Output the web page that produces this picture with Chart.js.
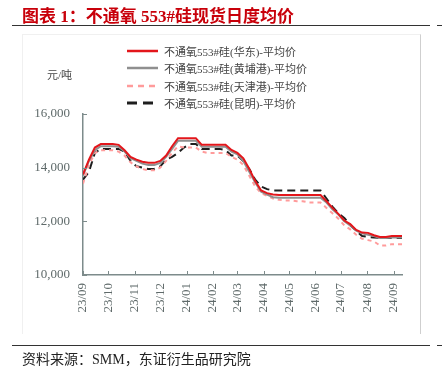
<!DOCTYPE html>
<html>
<head>
<meta charset="utf-8">
<script src="https://cdn.jsdelivr.net/npm/chart.js@4"></script>
<style>
  html, body { margin: 0; padding: 0; background: #fff; }
  #wrap { position: relative; width: 442px; height: 378px; overflow: hidden; }
  #chart { position: absolute; left: 0; top: 0; }
  .abs { position: absolute; }
  #title { left: 22px; top: 2px; font: bold 17px "Liberation Serif", "Noto Sans CJK SC"; color: #c8000a; white-space: nowrap; }
  .rule { position: absolute; height: 1px; background: #333; }
  #panel { left: 22px; top: 34px; width: 397px; height: 299px; border-top: 1px solid #f0f0f0; border-left: 1px solid #f0f0f0; border-right: 1px solid #cfcfcf; }
  #unit { left: 47px; top: 66px; font: 11px "Liberation Serif", "Noto Sans CJK SC"; color: #444; }
  #legend { left: 127px; top: 42px; }
  .item { height: 17.5px; display: flex; align-items: center; font: 11px "Liberation Serif", "Noto Sans CJK SC"; color: #444; white-space: nowrap; }
  .item svg { margin-right: 6px; }
  #source { left: 22px; top: 348px; font: 14px "Liberation Serif", "Noto Sans CJK SC"; color: #222; white-space: nowrap; }
</style>
</head>
<body>
<div id="wrap">
  <canvas id="chart" width="442" height="378"></canvas>
  <div id="panel" class="abs"></div>
  <div id="title" class="abs">图表 1：不通氧 553#硅现货日度均价</div>
  <div class="rule" style="left:12px; top:25px; width:418px;"></div>
  <div class="rule" style="left:437px; top:25px; width:5px;"></div>
  <div id="unit" class="abs">元/吨</div>
  <div id="legend" class="abs"></div>
  <div class="rule" style="left:12px; top:345px; width:418px;"></div>
  <div class="rule" style="left:437px; top:345px; width:5px;"></div>
  <div id="source" class="abs">资料来源：SMM，东证衍生品研究院</div>
</div>
<script>
  'use strict';

  // --- Data (weekly readings, yuan/ton) ---
  const startDate = '2023-09-01';
  const dates = [
    '2023-09-01', '2023-09-08', '2023-09-15', '2023-09-22', '2023-09-29', '2023-10-06', '2023-10-13',
    '2023-10-20', '2023-10-27', '2023-11-03', '2023-11-10', '2023-11-17', '2023-11-24', '2023-12-01',
    '2023-12-08', '2023-12-15', '2023-12-22', '2023-12-29', '2024-01-05', '2024-01-12', '2024-01-19',
    '2024-01-26', '2024-02-02', '2024-02-09', '2024-02-16', '2024-02-23', '2024-03-01', '2024-03-08',
    '2024-03-15', '2024-03-22', '2024-03-29', '2024-04-05', '2024-04-12', '2024-04-19', '2024-04-26',
    '2024-05-03', '2024-05-10', '2024-05-17', '2024-05-24', '2024-05-31', '2024-06-07', '2024-06-14',
    '2024-06-21', '2024-06-28', '2024-07-05', '2024-07-12', '2024-07-19', '2024-07-26', '2024-08-02',
    '2024-08-09', '2024-08-16', '2024-08-23', '2024-08-30', '2024-09-06', '2024-09-11'
  ];
  const huadong = [
    13750, 14300, 14750, 14880, 14880, 14880, 14850, 14650, 14400, 14300, 14220, 14180, 14180, 14250,
    14450, 14800, 15100, 15100, 15100, 15100, 14850, 14850, 14850, 14850, 14850, 14660, 14550, 14350,
    13950, 13500, 13150, 13050, 13000, 12980, 12980, 12980, 12980, 12980, 12980, 12980, 12980, 12750,
    12500, 12280, 12030, 11900, 11680, 11580, 11570, 11480, 11420, 11420, 11450, 11450, 11450
  ];
  const huangpu = [
    13700, 14250, 14650, 14800, 14800, 14800, 14780, 14600, 14350, 14250, 14150, 14100, 14100, 14180,
    14400, 14700, 15000, 15000, 15000, 15000, 14780, 14780, 14780, 14780, 14780, 14600, 14500, 14250,
    13850, 13450, 13100, 13000, 12900, 12880, 12880, 12880, 12880, 12880, 12880, 12880, 12880, 12700,
    12450, 12250, 12000, 11850, 11650, 11550, 11500, 11450, 11380, 11380, 11400, 11400, 11400
  ];
  const tianjin = [
    13400, 14100, 14550, 14650, 14650, 14650, 14600, 14450, 14200, 14050, 13950, 13900, 13900, 14000,
    14250, 14550, 14800, 14750, 14750, 14750, 14600, 14550, 14550, 14550, 14550, 14400, 14300, 14100,
    13700, 13300, 13050, 12950, 12850, 12800, 12780, 12780, 12750, 12750, 12700, 12700, 12700, 12500,
    12300, 12100, 11850, 11700, 11500, 11350, 11300, 11250, 11100, 11100, 11150, 11150, 11150
  ];
  const kunming = [
    13550, 13850, 14550, 14700, 14700, 14700, 14700, 14600, 14250, 14050, 14000, 13950, 13950, 14050,
    14300, 14400, 14550, 14750, 14880, 14880, 14700, 14700, 14700, 14700, 14650, 14450, 14450, 14250,
    13950, 13550, 13300, 13200, 13150, 13150, 13150, 13150, 13150, 13150, 13150, 13150, 13150, 12850,
    12550, 12300, 12130, 11850, 11650, 11450, 11420, 11400, 11380, 11380, 11380, 11380, 11380
  ];

  // --- Axis tick labels ---
  const monthStarts = [
    '2023-09-01', '2023-10-01', '2023-11-01', '2023-12-01', '2024-01-01', '2024-02-01', '2024-03-01',
    '2024-04-01', '2024-05-01', '2024-06-01', '2024-07-01', '2024-08-01', '2024-09-01'
  ];
  const monthLabels = ['23/09', '23/10', '23/11', '23/12', '24/01', '24/02', '24/03', '24/04', '24/05', '24/06', '24/07', '24/08', '24/09'];
  const yTicks = [10000, 12000, 14000, 16000];

  const seriesInfo = [
    { name: '不通氧553#硅(华东)-平均价', values: huadong, color: '#e3161b', width: 2, dash: [], legendDash: 'none', legendWidth: 2.5 },
    { name: '不通氧553#硅(黄埔港)-平均价', values: huangpu, color: '#8f8f8f', width: 2, dash: [], legendDash: 'none', legendWidth: 2.5 },
    { name: '不通氧553#硅(天津港)-平均价', values: tianjin, color: '#ff9b9b', width: 2, dash: [4, 4], legendDash: '6,5', legendWidth: 2.5 },
    { name: '不通氧553#硅(昆明)-平均价', values: kunming, color: '#1e1e1e', width: 2, dash: [8, 5], legendDash: '10,6', legendWidth: 3 }
  ];

  const dayOf = d => (Date.parse(d) - Date.parse(startDate)) / 86400000;
  const tickDays = monthStarts.map(dayOf);

  // --- HTML legend ---
  const legendEl = document.getElementById('legend');
  seriesInfo.forEach(s => {
    const row = document.createElement('div');
    row.className = 'item';
    row.innerHTML = '<svg width="31" height="6"><line x1="0" y1="3" x2="31" y2="3" stroke="' + s.color +
      '" stroke-width="' + s.legendWidth + '" stroke-dasharray="' + s.legendDash + '"/></svg><span>' + s.name + '</span>';
    legendEl.appendChild(row);
  });

  // --- Inner tick marks (drawn inside the plot) ---
  const axisColor = '#7d8b8b';
  const innerTicks = {
    id: 'innerTicks',
    afterDraw(chart) {
      const { ctx, chartArea, scales } = chart;
      ctx.save();
      ctx.strokeStyle = axisColor;
      ctx.lineWidth = 1;
      ctx.beginPath();
      scales.x.ticks.forEach((t, i) => {
        const x = Math.round(scales.x.getPixelForTick(i)) + 0.5;
        ctx.moveTo(x, chartArea.bottom);
        ctx.lineTo(x, chartArea.bottom - 4);
      });
      scales.y.ticks.forEach((t, i) => {
        const y = Math.round(scales.y.getPixelForTick(i)) + 0.5;
        ctx.moveTo(chartArea.left, y);
        ctx.lineTo(chartArea.left + 4, y);
      });
      ctx.stroke();
      ctx.restore();
    }
  };

  new Chart(document.getElementById('chart').getContext('2d'), {
    type: 'line',
    data: {
      datasets: seriesInfo.map(s => ({
        label: s.name,
        data: dates.map((d, i) => ({ x: dayOf(d), y: s.values[i] })),
        borderColor: s.color,
        borderWidth: s.width,
        borderDash: s.dash,
        pointRadius: 0,
        tension: 0,
        fill: false
      }))
    },
    options: {
      responsive: false,
      animation: false,
      layout: { padding: { top: 114, right: 40, bottom: 0, left: 0 } },
      plugins: { legend: { display: false }, tooltip: { enabled: false } },
      scales: {
        x: {
          type: 'linear',
          min: 0,
          max: dayOf(dates[dates.length - 1]),
          afterBuildTicks: axis => { axis.ticks = tickDays.map(v => ({ value: v })); },
          afterFit: axis => { axis.height = 103; },
          grid: { display: true, drawOnChartArea: false, drawTicks: false },
          border: { display: true, color: axisColor, width: 1.5 },
          ticks: {
            autoSkip: false,
            minRotation: 90,
            maxRotation: 90,
            padding: 8,
            color: '#5f6a6a',
            font: { family: 'Liberation Serif', size: 13 },
            callback: (v, i) => monthLabels[i]
          }
        },
        y: {
          min: 10000,
          max: 16000,
          afterBuildTicks: axis => { axis.ticks = yTicks.map(v => ({ value: v })); },
          afterFit: axis => { axis.width = 83; },
          grid: { display: true, drawOnChartArea: false, drawTicks: false },
          border: { display: true, color: axisColor, width: 1.5 },
          ticks: {
            padding: 13,
            color: '#5f6a6a',
            font: { family: 'Liberation Serif', size: 13 },
            callback: v => v.toLocaleString('en-US')
          }
        }
      }
    },
    plugins: [innerTicks]
  });
</script>
</body>
</html>
